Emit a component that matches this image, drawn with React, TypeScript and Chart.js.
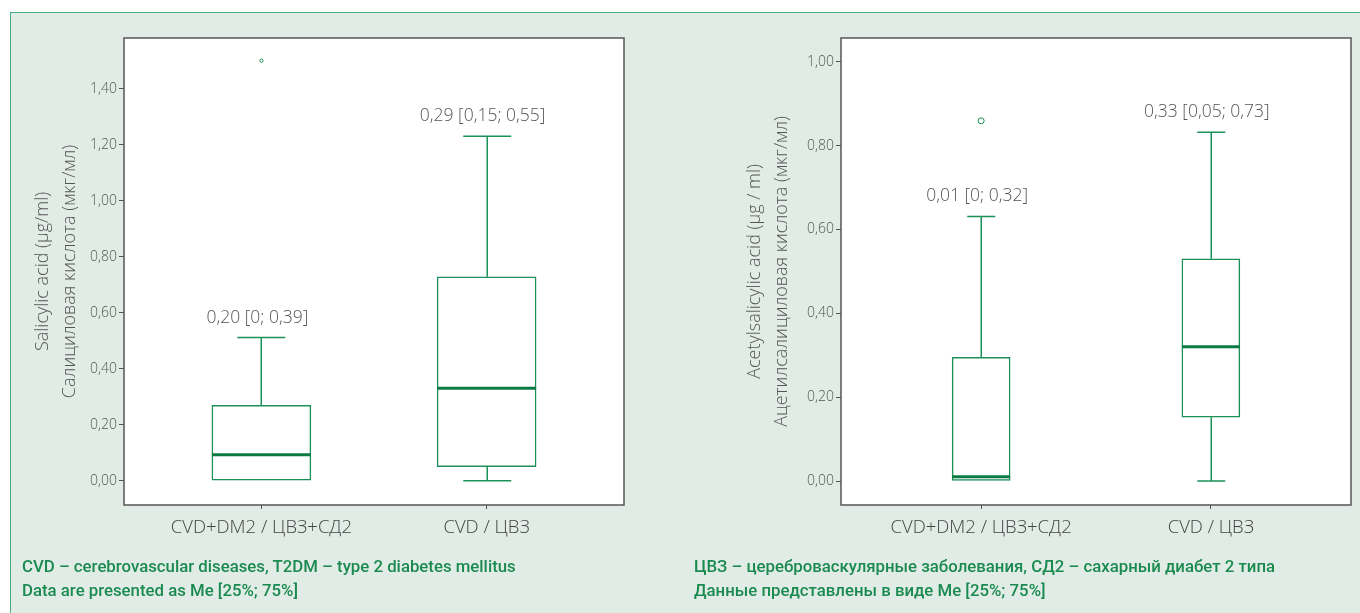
import React, { useEffect, useRef } from "react";
import { Chart, registerables } from "chart.js";

Chart.register(...registerables);

// ---------- DATA ----------
const categories = ["CVD+DM2 / ЦВЗ+СД2", "CVD / ЦВЗ"];
const categoryPositions = [0, 1];

// Left panel: salicylic acid (µg/ml)
const salWhiskerLow = [0, 0];
const salQ1 = [0, 0.05];
const salMedian = [0.093, 0.33];
const salQ3 = [0.269, 0.728];
const salWhiskerHigh = [0.511, 1.23];
const salOutlierGroup = [0];
const salOutlierValue = [1.5];
const salAnnotations = ["0,20 [0; 0,39]", "0,29 [0,15; 0,55]"];
const salTicks = [0, 0.2, 0.4, 0.6, 0.8, 1.0, 1.2, 1.4];

// Right panel: acetylsalicylic acid (µg/ml)
const asaWhiskerLow = [0, 0];
const asaQ1 = [0, 0.152];
const asaMedian = [0.01, 0.32];
const asaQ3 = [0.295, 0.53];
const asaWhiskerHigh = [0.631, 0.832];
const asaOutlierGroup = [0];
const asaOutlierValue = [0.859];
const asaAnnotations = ["0,01 [0; 0,32]", "0,33 [0,05; 0,73]"];
const asaTicks = [0, 0.2, 0.4, 0.6, 0.8, 1.0];

// ---------- STYLE ----------
const GREEN = "#1b9058";
const GREEN_DARK = "#0b7a43";
const TEXT_GRAY = "#555555";
const FONT = "'Open Sans', 'DejaVu Sans', sans-serif";

const boxExtras = {
  id: "boxExtras",
  beforeDraw(chart: any) {
    const { ctx, chartArea: a } = chart;
    ctx.save();
    ctx.fillStyle = "#ffffff";
    ctx.fillRect(a.left, a.top, a.right - a.left, a.bottom - a.top);
    ctx.restore();
  },
  beforeDatasetsDraw(chart: any, _a: any, o: any) {
    const { ctx } = chart;
    const x = chart.scales.x;
    const y = chart.scales.y;
    ctx.save();
    ctx.strokeStyle = GREEN;
    ctx.lineWidth = 1.5;
    o.positions.forEach((p: number, i: number) => {
      const cx = Math.round(x.getPixelForValue(p)) + 0.25;
      const yQ3 = y.getPixelForValue(o.q3[i]);
      const yHi = y.getPixelForValue(o.hi[i]);
      const yQ1 = y.getPixelForValue(o.q1[i]);
      const yLo = y.getPixelForValue(o.lo[i]);
      ctx.beginPath();
      ctx.moveTo(cx, yQ3);
      ctx.lineTo(cx, yHi);
      ctx.moveTo(cx - o.capHalf, yHi);
      ctx.lineTo(cx + o.capHalf, yHi);
      if (o.lo[i] < o.q1[i]) {
        ctx.moveTo(cx, yQ1);
        ctx.lineTo(cx, yLo);
        ctx.moveTo(cx - o.capHalf, yLo);
        ctx.lineTo(cx + o.capHalf, yLo);
      }
      ctx.stroke();
    });
    ctx.restore();
  },
  afterDatasetsDraw(chart: any, _a: any, o: any) {
    const { ctx, chartArea: a } = chart;
    const x = chart.scales.x;
    const y = chart.scales.y;
    ctx.save();
    o.positions.forEach((p: number, i: number) => {
      const cx = x.getPixelForValue(p);
      const ym = y.getPixelForValue(o.median[i]);
      ctx.strokeStyle = GREEN_DARK;
      ctx.lineWidth = 3;
      ctx.beginPath();
      ctx.moveTo(cx - o.boxWidth / 2, ym);
      ctx.lineTo(cx + o.boxWidth / 2, ym);
      ctx.stroke();
      ctx.fillStyle = TEXT_GRAY;
      ctx.font = `300 ${o.labelSize}px ${FONT}`;
      ctx.textAlign = "center";
      ctx.textBaseline = "middle";
      ctx.fillText(o.labels[i], cx - 4, y.getPixelForValue(o.hi[i]) - o.labelGap);
    });
    ctx.strokeStyle = "#555555";
    ctx.lineWidth = 1.5;
    ctx.strokeRect(a.left, a.top, a.right - a.left, a.bottom - a.top);
    ctx.restore();
  },
};

function fmt(v: number) {
  return v.toFixed(2).replace(".", ",");
}

function makeConfig(s: any) {
  return {
    type: "bar",
    data: {
      datasets: [
        {
          type: "bar",
          data: categoryPositions.map((p, i) => ({ x: p, y: [s.q1[i], s.q3[i]] })),
          backgroundColor: "#ffffff",
          borderColor: GREEN,
          borderWidth: 1.5,
          borderSkipped: false,
          barThickness: s.boxWidth,
          order: 2,
        },
        {
          type: "scatter",
          data: s.outGroup.map((g: number, i: number) => ({ x: categoryPositions[g], y: s.outValue[i] })),
          pointRadius: s.outlierRadius,
          pointBorderColor: GREEN,
          pointBackgroundColor: "#ffffff",
          pointBorderWidth: 1,
          order: 1,
        },
      ],
    },
    options: {
      animation: false,
      responsive: false,
      maintainAspectRatio: false,
      layout: { padding: { top: 38, right: s.padRight, left: 0, bottom: 0 } },
      plugins: {
        legend: { display: false },
        tooltip: { enabled: false },
        boxExtras: {
          positions: categoryPositions,
          lo: s.lo,
          q1: s.q1,
          median: s.median,
          q3: s.q3,
          hi: s.hi,
          labels: s.annotations,
          capHalf: s.capHalf,
          boxWidth: s.boxWidth,
          labelSize: 17.5,
          labelGap: 20,
        },
      },
      scales: {
        x: {
          type: "linear",
          min: -0.61,
          max: 1.61,
          offset: false,
          afterBuildTicks: (sc: any) => {
            sc.ticks = categoryPositions.map((v) => ({ value: v }));
          },
          afterFit: (sc: any) => {
            sc.height = 55;
          },
          ticks: {
            autoSkip: false,
            maxRotation: 0,
            padding: 8,
            color: "#444444",
            font: { family: FONT, size: 18.5, weight: "300" },
            callback: (v: number) => categories[categoryPositions.indexOf(v)] ?? "",
          },
          grid: { offset: false, drawOnChartArea: false, tickLength: 4, color: "#555555" },
          border: { display: false },
        },
        y: {
          type: "linear",
          min: s.yMin,
          max: s.yMax,
          afterBuildTicks: (sc: any) => {
            sc.ticks = s.ticks.map((v: number) => ({ value: v }));
          },
          afterFit: (sc: any) => {
            sc.width = s.yWidth;
          },
          ticks: {
            padding: 2,
            color: TEXT_GRAY,
            font: { family: FONT, size: 14, weight: "300" },
            callback: (v: number) => fmt(v),
          },
          grid: { drawOnChartArea: false, tickLength: 5, color: "#555555" },
          border: { display: false },
          title: {
            display: true,
            text: s.title,
            color: TEXT_GRAY,
            font: { family: FONT, size: 18, weight: "300", lineHeight: 1.48 },
            padding: { top: s.titlePad, bottom: 0 },
          },
        },
      },
    },
    plugins: [boxExtras],
  };
}

const leftSpec = {
  lo: salWhiskerLow,
  q1: salQ1,
  median: salMedian,
  q3: salQ3,
  hi: salWhiskerHigh,
  outGroup: salOutlierGroup,
  outValue: salOutlierValue,
  annotations: salAnnotations,
  ticks: salTicks,
  title: ["Salicylic acid (µg/ml)", "Салициловая кислота (мкг/мл)"],
  yMin: -0.0868,
  yMax: 1.581,
  yWidth: 124,
  padRight: 56,
  titlePad: 30,
  boxWidth: 99,
  capHalf: 24,
  outlierRadius: 1.6,
};

const rightSpec = {
  lo: asaWhiskerLow,
  q1: asaQ1,
  median: asaMedian,
  q3: asaQ3,
  hi: asaWhiskerHigh,
  outGroup: asaOutlierGroup,
  outValue: asaOutlierValue,
  annotations: asaAnnotations,
  ticks: asaTicks,
  title: ["Acetylsalicylic acid (µg / ml)", "Ацетилсалициловая кислота (мкг/мл)"],
  yMin: -0.0572,
  yMax: 1.0565,
  yWidth: 161,
  padRight: 9,
  titlePad: 62,
  boxWidth: 58,
  capHalf: 14,
  outlierRadius: 3,
};

function BoxChart({ spec, left }: { spec: any; left: number }) {
  const ref = useRef<HTMLCanvasElement>(null);
  useEffect(() => {
    if (!ref.current) return;
    const chart = new Chart(ref.current, makeConfig(spec) as any);
    return () => chart.destroy();
  }, [spec]);
  return (
    <canvas
      ref={ref}
      width={680}
      height={560}
      style={{ position: "absolute", left, top: 0, width: 680, height: 560 }}
    />
  );
}

const footStyle: React.CSSProperties = {
  position: "absolute",
  top: 554,
  fontFamily: "Roboto, 'Open Sans', sans-serif",
  fontWeight: 500,
  fontSize: 16.8,
  lineHeight: "24px",
  color: "#1b8a50",
  whiteSpace: "nowrap",
};

export default function App() {
  return (
    <div
      style={{
        position: "fixed",
        left: 0,
        top: 0,
        width: 1360,
        height: 613,
        background: "#ffffff",
        overflow: "hidden",
      }}
    >
      <div
        style={{
          position: "absolute",
          left: 10,
          top: 12,
          width: 1400,
          height: 700,
          background: "#e0ece5",
          borderLeft: "1.5px solid #4dab84",
          borderTop: "1.5px solid #4dab84",
        }}
      />
      <BoxChart spec={leftSpec} left={0} />
      <BoxChart spec={rightSpec} left={680} />
      <div style={{ ...footStyle, left: 22 }}>
        CVD – cerebrovascular diseases, T2DM – type 2 diabetes mellitus
        <br />
        Data are presented as Me [25%; 75%]
      </div>
      <div style={{ ...footStyle, left: 694 }}>
        ЦВЗ – цереброваскулярные заболевания, СД2 – сахарный диабет 2 типа
        <br />
        Данные представлены в виде Ме [25%; 75%]
      </div>
    </div>
  );
}
